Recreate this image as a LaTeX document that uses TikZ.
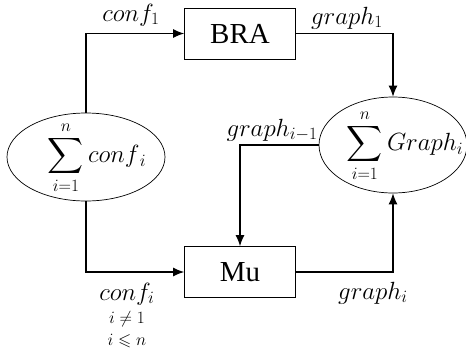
\documentclass[tikz,border=0pt]{standalone}
\usepackage{amssymb}
\usepackage{fontspec}
\setmainfont{Liberation Serif}
\usetikzlibrary{shapes.geometric,arrows.meta}
\begin{document}
\begin{tikzpicture}[x=1pt,y=-1pt,
  box/.style={draw, line width=0.7pt, minimum width=111pt, minimum height=51pt, inner sep=0pt, font=\fontsize{29}{32}\selectfont},
  ell/.style={draw, ellipse, line width=0.7pt, inner sep=0pt},
  sumtext/.style={inner sep=0pt, font=\fontsize{25}{28}\selectfont},
  arr/.style={line width=1.2pt, -{Latex[length=11pt,width=9pt]}},
  lab/.style={font=\fontsize{23}{25}\selectfont, inner sep=0pt},
  cond/.style={font=\fontsize{17}{19}\selectfont, inner sep=0pt}]
\useasboundingbox (0,0) rectangle (466,349);
\node[ell, minimum width=158pt, minimum height=88pt] (L) at (86,157) {};
\node[sumtext] (Lt) at (97,158) {$\displaystyle\sum_{i=1}^{n} conf_{\,i}$};
\node[ell, minimum width=148pt, minimum height=96pt] (R) at (393,145) {};
\node[sumtext] (Rt) at (405,146) {$\displaystyle\sum_{i=1}^{n} Graph_i$};
\node[box] (B) at (240,33.5) {BRA};
\node[box] (M) at (240,272) {Mu};
\draw[arr] (L.north) |- (B.west);
\draw[arr] (B.east) -| (R.north);
\draw[arr] (R.west) -| (M.north);
\draw[arr] (L.south) |- (M.west);
\draw[arr] (M.east) -| (R.south);
\node[lab] (l1) at (131,15) {$conf_1$};
\node[lab] (l2) at (347,18) {$graph_1$};
\node[lab] (l3) at (272,130) {$graph_{i-1}$};
\node[lab] (l4) at (373,293) {$graph_i$};
\node[lab] (l5) at (127,294) {$conf_i$};
\node[cond] (l6) at (127,319) {$i\neq 1$};
\node[cond] (l7) at (127,341) {$i\leqslant n$};
\end{tikzpicture}
\end{document}
